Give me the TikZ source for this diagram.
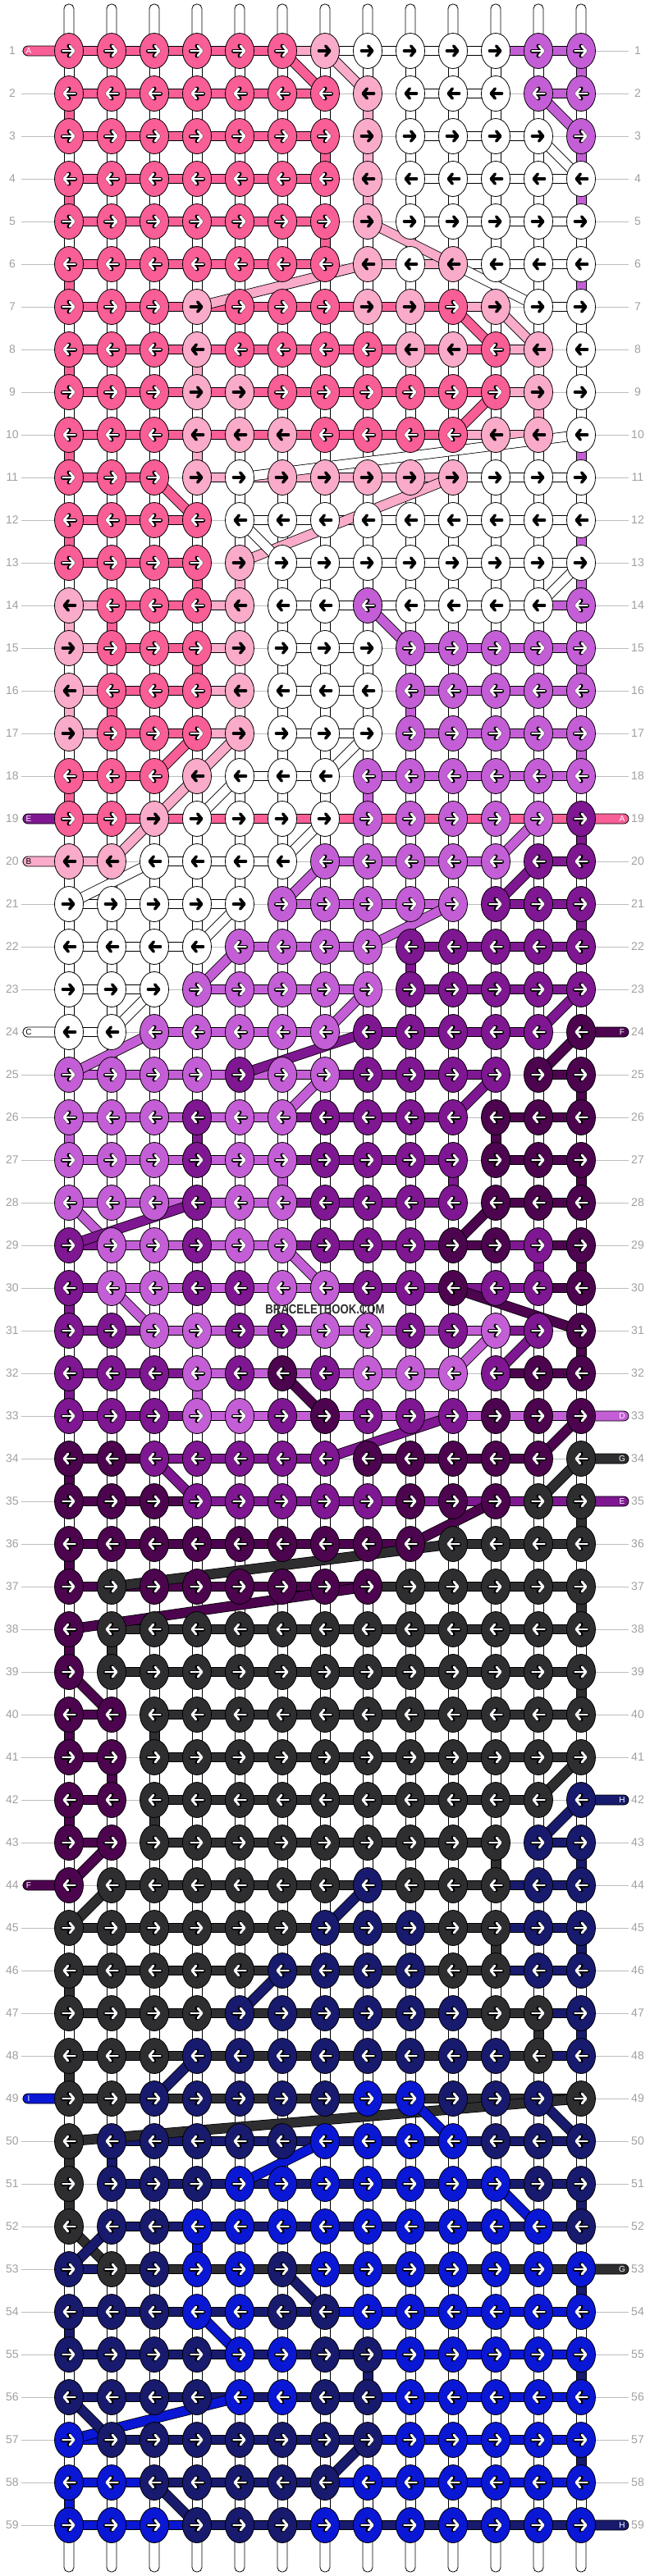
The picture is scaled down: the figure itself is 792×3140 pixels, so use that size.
\documentclass[tikz,border=0pt]{standalone}
\usepackage{fontspec}
\setmainfont{Liberation Sans}
\usetikzlibrary{arrows.meta,shapes.geometric}
\pgfdeclarelayer{bg}
\pgfdeclarelayer{mid}
\pgfsetlayers{bg,mid,main}
\definecolor{cP}{HTML}{F95E96}
\definecolor{cL}{HTML}{F9ABC9}
\definecolor{cW}{HTML}{FFFFFF}
\definecolor{cO}{HTML}{C45ED6}
\definecolor{cU}{HTML}{7E1791}
\definecolor{cD}{HTML}{4D044F}
\definecolor{cG}{HTML}{2E2D30}
\definecolor{cN}{HTML}{171A6D}
\definecolor{cB}{HTML}{0A17D4}
\colorlet{tP}{white}\colorlet{tL}{black}\colorlet{tW}{black}\colorlet{tO}{white}
\colorlet{tU}{white}\colorlet{tD}{white}\colorlet{tG}{white}\colorlet{tN}{white}\colorlet{tB}{white}
\definecolor{labgray}{HTML}{A0A0A0}
\definecolor{linegray}{HTML}{BDBDBD}
\tikzset{
  knot/.style={ellipse, draw=black, line width=0.8pt, minimum width=35pt, minimum height=43pt, inner sep=0pt},
  bo/.style={line width=12.5pt, black},
  bi/.style={line width=10.9pt},
  arrout/.style={line width=5pt, black, line cap=round, line join=round, -{Straight Barb[length=5pt,width=12pt,round]}},
  arrin/.style={line width=2.8pt, white, line cap=round, line join=round, -{Straight Barb[length=5pt,width=12pt,round]}},
  arrblk/.style={line width=3.6pt, black, line cap=round, line join=round, -{Straight Barb[length=5pt,width=12pt,round]}},
  stub/.style={draw=black, line width=0.8pt},
  rowline/.style={draw=linegray, line width=1pt},
  rowlab/.style={text=labgray, font=\fontsize{14}{14}\selectfont, inner sep=0pt},
  tabtxt/.style={font=\fontsize{10}{10}\selectfont, inner sep=0pt},
}
\newcommand\krow[3]{%
  \def\rr{#1}%
  \pgfmathsetmacro\yy{62+52*(#1-1)}%
  \ifodd#1\relax\def\dd{1}\else\def\dd{-1}\fi
  \foreach \c [count=\i] in {#2}{%
    \pgfmathsetmacro\xx{84+52*(\i-1)}%
    \pgfmathsetmacro\xa{\xx-7.5*\dd}%
    \pgfmathsetmacro\xb{\xx+7.5*\dd}%
    \node[knot,fill=c\c] (k-\rr-\i) at (\xx,\yy) {};
    \def\ac{1}%
    \if\c W\def\ac{0}\fi
    \if\c L\def\ac{0}\fi
    \ifnum\ac=1
      \draw[arrout] (\xa,\yy) -- (\xb,\yy);
      \draw[arrin] (\xa,\yy) -- (\xb,\yy);
    \else
      \draw[arrblk] (\xa,\yy) -- (\xb,\yy);
    \fi
  }%
  \begin{pgfonlayer}{mid}
  \foreach \c [count=\i] in {#3}{%
    \if\c X\else
      \pgfmathtruncatemacro\j{\i+1}%
      \draw[bo] (k-\rr-\i.center) -- (k-\rr-\j.center);
      \draw[bi,draw=c\c] (k-\rr-\i.center) -- (k-\rr-\j.center);
    \fi
  }%
  \end{pgfonlayer}
  \begin{pgfonlayer}{bg}
    \draw[rowline] (26,\yy) -- (766,\yy);
    \node[rowlab] (ll-\rr) at (15,\yy) {\rr};
    \node[rowlab] (rl-\rr) at (777,\yy) {\rr};
  \end{pgfonlayer}
}
\newcommand\setstub[3]{\expandafter\def\csname st#1-#2\endcsname{#3}}
\newcommand\ltab[3]{%
  \pgfmathsetmacro\yy{62+52*(#1-1)}%
  \begin{pgfonlayer}{mid}
  \filldraw[fill=c#2, draw=black, line width=0.8pt, rounded corners=6pt] (28,\yy-6) rectangle (84,\yy+6);
  \node[tabtxt, text=t#2] (lt-#1) at (35,\yy) {#3};
  \end{pgfonlayer}}
\newcommand\rtab[3]{%
  \pgfmathsetmacro\yy{62+52*(#1-1)}%
  \begin{pgfonlayer}{mid}
  \filldraw[fill=c#2, draw=black, line width=0.8pt, rounded corners=6pt] (708,\yy-6) rectangle (766,\yy+6);
  \node[tabtxt, text=t#2] (rt-#1) at (758,\yy) {#3};
  \end{pgfonlayer}}
\setstub{1}{13}{O}
\setstub{2}{1}{P}\setstub{2}{8}{L}
\setstub{3}{7}{P}\setstub{3}{8}{L}\setstub{3}{13}{O}
\setstub{4}{1}{P}\setstub{4}{8}{L}\setstub{4}{13}{O}
\setstub{5}{7}{P}
\setstub{6}{1}{P}\setstub{6}{13}{O}
\setstub{8}{1}{P}\setstub{8}{4}{L}
\setstub{9}{12}{L}
\setstub{10}{1}{P}\setstub{10}{4}{L}\setstub{10}{13}{O}
\setstub{12}{1}{P}\setstub{12}{13}{O}
\setstub{13}{4}{P}\setstub{13}{5}{L}\setstub{13}{13}{O}
\setstub{14}{1}{L}\setstub{14}{2}{P}
\setstub{15}{4}{P}\setstub{15}{13}{O}
\setstub{16}{1}{L}\setstub{16}{2}{P}\setstub{16}{9}{O}
\setstub{17}{13}{O}
\setstub{18}{1}{P}\setstub{18}{8}{O}
\setstub{19}{13}{U}
\setstub{21}{13}{U}
\setstub{22}{9}{U}
\setstub{25}{13}{D}
\setstub{26}{1}{O}\setstub{26}{4}{U}\setstub{26}{11}{D}
\setstub{27}{6}{O}\setstub{27}{10}{U}\setstub{27}{13}{D}
\setstub{29}{12}{U}\setstub{29}{13}{D}
\setstub{30}{1}{U}
\setstub{31}{13}{D}
\setstub{32}{1}{U}\setstub{32}{4}{O}
\setstub{34}{1}{D}
\setstub{35}{13}{G}
\setstub{36}{1}{D}
\setstub{37}{13}{G}
\setstub{38}{1}{D}\setstub{38}{2}{G}
\setstub{39}{13}{G}
\setstub{40}{1}{D}\setstub{40}{3}{G}
\setstub{41}{2}{D}
\setstub{42}{1}{D}\setstub{42}{3}{G}
\setstub{43}{11}{G}\setstub{43}{13}{N}
\setstub{45}{11}{G}\setstub{45}{13}{N}
\setstub{46}{1}{G}
\setstub{47}{12}{G}\setstub{47}{13}{N}
\setstub{48}{1}{G}
\setstub{50}{1}{G}\setstub{50}{2}{N}
\setstub{51}{1}{G}\setstub{51}{13}{N}
\setstub{52}{4}{B}
\setstub{53}{13}{N}
\setstub{54}{1}{N}
\setstub{55}{8}{N}\setstub{55}{13}{N}
\setstub{57}{13}{N}
\setstub{58}{1}{B}
\begin{document}
\begin{tikzpicture}[x=1pt,y=-1pt]
\begin{pgfonlayer}{bg}
\fill[white] (0,0) rectangle (792,3140);
\end{pgfonlayer}
\useasboundingbox (0,0) rectangle (792,3140);
\krow{1}{P,P,P,P,P,P,L,W,W,W,W,O,O}{P,P,P,P,P,L,W,W,W,W,O,O}
\krow{2}{P,P,P,P,P,P,P,L,W,W,W,O,O}{P,P,P,P,P,P,X,X,W,W,X,O}
\krow{3}{P,P,P,P,P,P,P,L,W,W,W,W,O}{P,P,P,P,P,P,X,X,W,W,W,X}
\krow{4}{P,P,P,P,P,P,P,L,W,W,W,W,W}{P,P,P,P,P,P,X,X,W,W,W,W}
\krow{5}{P,P,P,P,P,P,P,L,W,W,W,W,W}{P,P,P,P,P,P,X,X,W,W,W,W}
\krow{6}{P,P,P,P,P,P,P,L,W,L,W,W,W}{P,P,P,P,P,P,X,L,L,W,W,W}
\krow{7}{P,P,P,L,P,P,P,L,L,P,L,W,W}{P,P,P,P,P,P,P,P,P,L,X,W}
\krow{8}{P,P,P,L,P,P,P,P,L,L,P,L,W}{P,P,P,P,P,P,P,P,P,P,L,X}
\krow{9}{P,P,P,L,L,P,P,P,P,P,P,L,W}{P,P,P,P,P,P,P,P,P,P,L,X}
\krow{10}{P,P,P,L,L,L,P,P,P,P,L,L,W}{P,P,P,P,P,P,P,P,P,L,L,X}
\krow{11}{P,P,P,L,W,L,L,L,L,L,W,W,W}{P,P,X,L,L,L,L,L,L,W,W,W}
\krow{12}{P,P,P,P,W,W,W,W,W,W,W,W,W}{P,P,P,X,W,W,W,W,W,W,W,W}
\krow{13}{P,P,P,P,L,W,W,W,W,W,W,W,W}{P,P,P,X,X,W,W,W,W,W,W,W}
\krow{14}{L,P,P,P,L,W,W,O,W,W,W,W,O}{L,P,P,L,X,W,W,W,W,W,W,O}
\krow{15}{L,P,P,P,L,W,W,W,O,O,O,O,O}{L,P,P,L,X,W,W,X,O,O,O,O}
\krow{16}{L,P,P,P,L,W,W,W,O,O,O,O,O}{L,P,P,L,X,W,W,X,O,O,O,O}
\krow{17}{L,P,P,P,L,W,W,W,O,O,O,O,O}{L,P,P,L,X,W,W,X,O,O,O,O}
\krow{18}{P,P,P,L,W,W,W,O,O,O,O,O,O}{P,P,X,X,W,W,X,O,O,O,O,O}
\krow{19}{P,P,L,W,W,W,W,O,O,O,O,O,U}{P,P,P,P,P,P,P,P,P,P,P,P}
\krow{20}{L,L,W,W,W,W,O,O,O,O,O,U,U}{L,X,W,W,W,X,O,O,O,O,X,U}
\krow{21}{W,W,W,W,W,O,O,O,O,O,U,U,U}{W,W,W,W,X,O,O,O,O,X,U,U}
\krow{22}{W,W,W,W,O,O,O,O,U,U,U,U,U}{W,W,W,X,O,O,O,X,U,U,U,U}
\krow{23}{W,W,W,O,O,O,O,O,U,U,U,U,U}{W,W,X,O,O,O,O,X,U,U,U,U}
\krow{24}{W,W,O,O,O,O,O,U,U,U,U,U,D}{W,X,O,O,O,O,X,U,U,U,U,X}
\krow{25}{O,O,O,O,U,O,O,U,U,U,U,D,D}{O,O,O,O,O,O,U,U,U,U,X,D}
\krow{26}{O,O,O,U,O,O,U,U,U,U,D,D,D}{O,O,O,O,O,U,U,U,U,X,D,D}
\krow{27}{O,O,O,U,O,O,U,U,U,U,D,D,D}{O,O,O,O,O,U,U,U,U,X,D,D}
\krow{28}{O,O,O,U,O,O,U,U,U,U,D,D,D}{O,O,O,O,O,U,U,U,U,X,D,D}
\krow{29}{U,O,O,U,O,O,U,U,U,D,D,U,D}{U,O,O,O,O,U,U,U,U,D,U,D}
\krow{30}{U,O,O,U,U,O,O,U,U,D,U,U,D}{U,O,O,O,O,O,U,U,U,U,U,D}
\krow{31}{U,U,O,O,U,U,O,O,U,U,O,U,D}{U,U,O,O,O,O,O,O,O,O,U,X}
\krow{32}{U,U,U,O,U,D,U,O,O,O,U,D,D}{U,U,U,O,O,O,O,O,O,X,D,D}
\krow{33}{U,U,U,O,O,U,D,U,U,U,D,D,D}{U,U,U,O,O,O,O,O,O,O,O,O}
\krow{34}{D,D,U,U,U,U,U,D,D,D,D,D,G}{D,D,U,U,U,U,X,D,D,D,D,X}
\krow{35}{D,D,D,U,U,U,U,U,D,D,D,G,G}{D,D,D,U,U,U,U,U,U,U,U,U}
\krow{36}{D,D,D,D,D,D,D,D,D,G,G,G,G}{D,D,D,D,D,D,D,D,X,G,G,G}
\krow{37}{D,G,D,D,D,D,D,D,G,G,G,G,G}{D,D,D,D,D,D,D,G,G,G,G,G}
\krow{38}{D,G,G,G,G,G,G,G,G,G,G,G,G}{X,G,G,G,G,G,G,G,G,G,G,G}
\krow{39}{D,G,G,G,G,G,G,G,G,G,G,G,G}{X,G,G,G,G,G,G,G,G,G,G,G}
\krow{40}{D,D,G,G,G,G,G,G,G,G,G,G,G}{D,X,G,G,G,G,G,G,G,G,G,G}
\krow{41}{D,D,G,G,G,G,G,G,G,G,G,G,G}{D,X,G,G,G,G,G,G,G,G,G,G}
\krow{42}{D,D,G,G,G,G,G,G,G,G,G,G,N}{D,X,G,G,G,G,G,G,G,G,G,X}
\krow{43}{D,D,G,G,G,G,G,G,G,G,G,N,N}{D,X,G,G,G,G,G,G,G,G,X,N}
\krow{44}{D,G,G,G,G,G,G,N,G,G,G,N,N}{X,G,G,G,G,G,G,G,G,G,N,N}
\krow{45}{G,G,G,G,G,G,N,N,N,G,G,N,N}{G,G,G,G,G,G,G,G,G,G,N,N}
\krow{46}{G,G,G,G,G,N,N,N,N,G,G,N,N}{G,G,G,G,G,G,G,G,G,G,N,N}
\krow{47}{G,G,G,G,N,N,N,N,N,N,G,G,N}{G,G,G,G,G,G,G,G,G,G,G,N}
\krow{48}{G,G,G,N,N,N,N,N,N,N,N,G,N}{G,G,G,G,G,G,G,G,G,G,G,N}
\krow{49}{G,G,N,N,N,N,N,B,B,N,N,N,G}{G,G,G,G,G,G,G,G,G,G,G,G}
\krow{50}{G,N,N,N,N,N,B,B,B,B,N,N,N}{X,N,N,N,N,N,N,N,N,N,N,N}
\krow{51}{G,N,N,N,B,B,B,B,B,B,B,N,N}{X,N,N,N,N,N,N,N,N,N,N,N}
\krow{52}{G,N,N,B,B,B,B,B,B,B,B,B,N}{X,N,N,N,N,N,N,N,N,N,N,N}
\krow{53}{N,G,N,B,B,N,B,B,B,B,B,B,B}{N,G,G,G,G,G,G,G,G,G,G,G}
\krow{54}{N,N,N,B,B,N,N,B,B,B,B,B,B}{N,N,N,N,N,N,B,B,B,B,B,B}
\krow{55}{N,N,N,N,B,B,N,N,B,B,B,B,B}{N,N,N,N,N,N,N,B,B,B,B,B}
\krow{56}{N,N,N,N,B,B,N,N,B,B,B,B,B}{N,N,N,N,N,N,N,B,B,B,B,B}
\krow{57}{B,N,N,N,N,N,N,N,B,B,B,B,B}{B,N,N,N,N,N,N,B,B,B,B,B}
\krow{58}{B,B,N,N,N,N,N,B,B,B,B,B,B}{B,B,N,N,N,N,B,B,B,B,B,B}
\krow{59}{B,B,B,N,N,N,B,B,B,B,B,B,B}{B,B,B,N,N,N,N,N,N,N,N,N}
% vertical stubs
\begin{pgfonlayer}{bg}
\foreach \r in {1,...,58}{%
  \pgfmathtruncatemacro\rn{\r+1}%
  \foreach \cc in {1,...,13}{%
    \ifcsname st\r-\cc\endcsname\edef\sc{\csname st\r-\cc\endcsname}\else\def\sc{W}\fi
    \filldraw[stub, fill=c\sc] ([xshift=-6pt]k-\r-\cc.center) rectangle ([xshift=6pt]k-\rn-\cc.center);
  }}
\foreach \cc in {1,...,13}{%
  \pgfmathsetmacro\xx{84+52*(\cc-1)}%
  \filldraw[stub, fill=white, rounded corners=5.5pt] (\xx-6,62) -- (\xx-6,5) -- (\xx+6,5) -- (\xx+6,62);
  \filldraw[stub, fill=white, rounded corners=5.5pt] (\xx-6,3078) -- (\xx-6,3135) -- (\xx+6,3135) -- (\xx+6,3078);
}
\end{pgfonlayer}
% diagonal threads
\begin{pgfonlayer}{mid}
\foreach \ra/\ca/\rb/\cb/\cl in {1/6/2/7/P,1/7/2/8/L,2/12/3/13/O,3/12/4/13/W,5/8/6/10/L,6/8/7/4/L,6/10/7/12/W,7/10/8/11/P,7/11/8/12/L,9/11/10/10/P,10/13/11/5/W,11/3/12/4/P,11/10/13/5/L,12/5/13/6/W,13/13/14/12/W,14/8/15/9/O,17/4/18/3/P,17/5/18/4/L,17/8/18/7/W,18/4/19/3/L,19/3/20/2/L,18/5/19/4/W,19/7/20/6/W,20/3/21/1/W,19/12/20/11/O,20/7/21/6/O,20/12/21/11/U,21/10/22/8/O,21/5/22/4/W,22/5/23/4/O,23/8/24/7/O,23/13/24/12/U,23/3/24/2/W,24/3/25/1/O,24/8/25/5/U,24/13/25/12/D,25/7/26/6/O,25/11/26/10/U,28/1/29/2/O,28/4/29/1/U,28/11/29/10/D,29/6/30/7/O,30/2/31/3/O,30/10/31/13/D,31/11/32/10/O,31/12/32/11/U,32/6/33/7/D,33/10/34/7/U,33/13/34/12/D,34/3/35/4/U,34/13/35/12/G,35/11/36/9/D,36/10/37/2/G,37/8/38/1/D,39/1/40/2/D,41/13/42/12/G,42/13/43/12/N,43/2/44/1/D,44/2/45/1/G,44/8/45/7/N,46/6/47/5/N,48/4/49/3/N,49/13/50/1/G,49/9/50/10/B,49/12/50/13/N,50/7/51/5/B,51/11/52/12/B,52/1/53/2/G,52/2/53/1/N,53/6/54/7/N,54/4/55/5/B,56/5/57/1/B,56/1/57/2/N,57/8/58/7/N,58/3/59/4/N}{%
  \draw[bo] (k-\ra-\ca.center) -- (k-\rb-\cb.center);
  \draw[bi,draw=c\cl] (k-\ra-\ca.center) -- (k-\rb-\cb.center);
}
\end{pgfonlayer}
% thread tabs
\ltab{1}{P}{A}
\ltab{19}{U}{E}\rtab{19}{P}{A}
\ltab{20}{L}{B}
\ltab{24}{W}{C}\rtab{24}{D}{F}
\rtab{33}{O}{D}
\rtab{34}{G}{G}
\rtab{35}{U}{E}
\rtab{42}{N}{H}
\ltab{44}{D}{F}
\ltab{49}{B}{I}
\rtab{53}{G}{G}
\rtab{59}{N}{H}
\node[text=cG, font=\bfseries\fontsize{16}{16}\selectfont, xscale=0.82, inner sep=0pt] (wm) at (396,1596) {BRACELETBOOK.COM};
\end{tikzpicture}
\end{document}
